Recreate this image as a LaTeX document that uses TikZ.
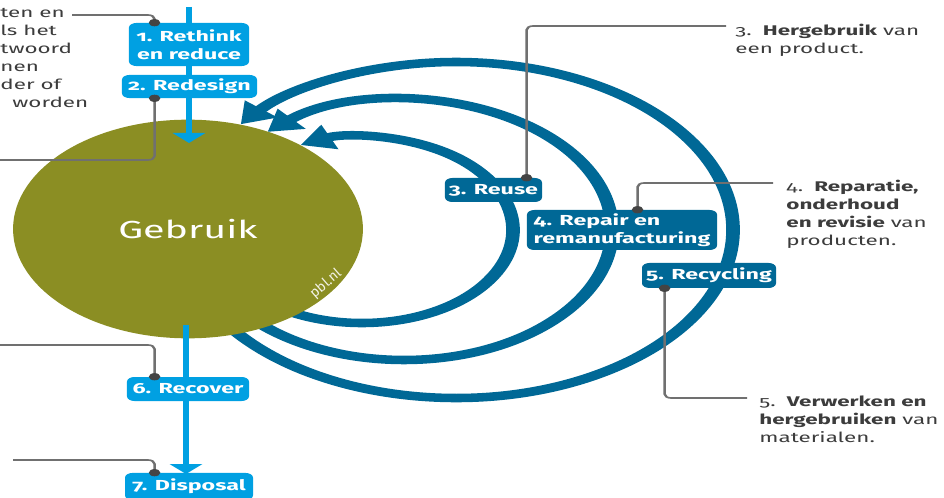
\documentclass[tikz,border=0pt]{standalone}
\usepackage{fontspec}
\setmainfont{Fira Sans}[Numbers=OldStyle]
\usetikzlibrary{arrows.meta,calc}

\definecolor{useolive}{RGB}{139,142,35}
\definecolor{loopblue}{RGB}{0,104,150}
\definecolor{flowblue}{RGB}{0,160,226}
\definecolor{leadgray}{RGB}{112,112,112}
\definecolor{dotgray}{RGB}{68,68,68}
\definecolor{notegray}{RGB}{60,60,60}

\newcommand\lblfont{\fontsize{10.9}{13.5}\selectfont\bfseries}
\newcommand\annfont{\fontsize{10.5}{13.5}\selectfont}

\tikzset{
  loopline/.style={draw=loopblue, line width=6.4pt, -{Triangle[length=15pt,width=19pt]}},
  stream/.style={draw=flowblue, line width=2.8pt, -{Triangle[length=7.5pt,width=15pt]}},
  lightbox/.style={fill=flowblue, rounded corners=3.5pt, text=white, font=\lblfont,
                   inner sep=0pt, align=center},
  darkbox/.style={fill=loopblue, rounded corners=3.5pt, text=white, font=\lblfont,
                  inner sep=0pt, align=left},
  lead/.style={draw=leadgray, line width=1.2pt, rounded corners=3pt},
  leaddot/.style={fill=dotgray},
  note/.style={text=notegray, font=\annfont, align=left, inner sep=0pt, anchor=north west},
}

\begin{document}
\begin{tikzpicture}[x=0.75pt,y=-0.75pt]
\useasboundingbox (0,0) rectangle (944,498);
\fill[white] (0,0) rectangle (944,498);

% the whole figure is laid out narrow and widened by 1.6
\begin{scope}[x=0.46875pt,y=-0.75pt,transform canvas={xscale=1.6}]

  % return loops (reuse, repair, recycling)
  \draw[loopline] (362,230) ++(120:151 and 93)
      arc[start angle=120,end angle=-114,x radius=151,y radius=93];
  \draw[loopline] (404,230) ++(136:208 and 130)
      arc[start angle=136,end angle=-131,x radius=208,y radius=130];
  \draw[loopline] (456,230) ++(146:277 and 168)
      arc[start angle=146,end angle=-141,x radius=277,y radius=168];

  % use phase
  \node[circle, fill=useolive, minimum size=164pt, inner sep=0pt, text=white,
        font=\fontsize{18.5}{22}\selectfont] (use) at (188,229) {Gebruik};

  % main material stream
  \coordinate (src) at (189,7);
  \coordinate (intake) at (189,143);
  \coordinate (outlet) at (186,325);
  \coordinate (dump) at (186,474);
  \draw[stream] (src) -- (intake);
  \draw[stream] (outlet) -- (dump);

  % stage labels on the stream
  \node[lightbox, minimum width=56.3pt, minimum height=32.3pt] (b1) at (189,44.5)
       {1. Rethink\\en reduce};
  \node[lightbox, minimum width=63.3pt, minimum height=17.3pt] (b2) at (189.5,86.5)
       {2. Redesign};
  \node[lightbox, minimum width=57.2pt, minimum height=18pt] (b6) at (188,389)
       {6. Recover};
  \node[lightbox, minimum width=60pt, minimum height=20.3pt] (b7) at (189,486.5)
       {7. Disposal};

  % stage labels on the loops
  \node[darkbox, minimum width=45.5pt, minimum height=18pt, align=center] (b3) at (493.5,190)
       {3. Reuse};
  \node[darkbox, minimum width=89.1pt, minimum height=30pt] (b4) at (622,230)
       {4. Repair en\\remanufacturing};
  \node[darkbox, minimum width=62.8pt, minimum height=18.75pt, align=center] (b5) at (709,275.5)
       {5. Recycling};

  % leader lines
  \coordinate (d1) at ($(b1.north west)+(26,0)$);
  \coordinate (d2) at ($(b2.south west)+(33,0)$);
  \coordinate (d6) at ($(b6.north west)+(28,0)$);
  \coordinate (d7) at ($(b7.north west)+(30,0)$);
  \coordinate (d3) at ($(b3.north west)+(82,0)$);
  \coordinate (d4) at ($(b4.north west)+(111,0)$);
  \coordinate (d5) at ($(b5.south west)+(23,0)$);

  \coordinate (l1) at (72,15);
  \coordinate (l2) at (0,160);
  \coordinate (l6) at (0,345);
  \coordinate (l7) at (13,460);
  \coordinate (l3) at (726,26);
  \coordinate (l4) at (773,183);
  \coordinate (l5) at (747,398);

  \draw[lead] (l1) -| (d1);
  \draw[lead] (d2) |- (l2);
  \draw[lead] (d6) |- (l6);
  \draw[lead] (d7) |- (l7);
  \draw[lead] (d3) |- (l3);
  \draw[lead] (d4) |- (l4);
  \draw[lead] (d5) |- (l5);

  \foreach \d in {d1,d2,d6,d7,d3,d4,d5}
    \fill[leaddot] (\d) circle[radius=2.7pt];

  % explanations
  \node[note] (n12) at (0,8)
       {ten en\\ls het\\twoord\\nen\\der of\\\hspace*{5.6pt}worden};
  \node[note] (n3) at (735,24)
       {3.\enspace\textbf{Hergebruik} van\\een product.};
  \node[note] (n4) at (786,180)
       {4.\enspace\textbf{Reparatie,}\\\textbf{onderhoud}\\\textbf{en revisie} van\\producten.};
  \node[note] (n5) at (759,396)
       {5.\enspace\textbf{Verwerken en}\\\textbf{hergebruiken} van\\materialen.};

\end{scope}

% source mark on the rim of the circle
\node[rotate=41, text=white!88!useolive, font=\fontsize{10.5}{12}\selectfont,
      inner sep=0pt] (pbl) at (326,284) {pbl.nl};
\end{tikzpicture}
\end{document}
